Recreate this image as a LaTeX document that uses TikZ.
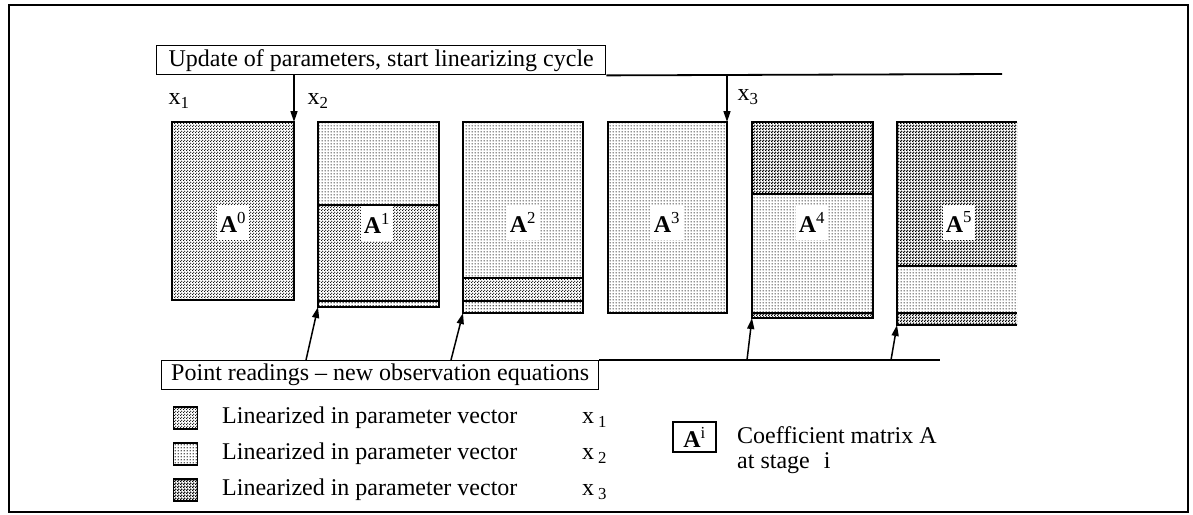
\documentclass[tikz,border=0pt]{standalone}
\usepackage{fontspec}
\setmainfont{Liberation Serif}
\usetikzlibrary{arrows.meta,patterns}
\pgfdeclarepatternformonly{hdA}{\pgfqpoint{0pt}{0pt}}{\pgfqpoint{3pt}{3pt}}{\pgfqpoint{3pt}{3pt}}{%
  \pgfpathcircle{\pgfqpoint{0.75pt}{0.75pt}}{0.82pt}%
  \pgfpathcircle{\pgfqpoint{2.25pt}{2.25pt}}{0.82pt}%
  \pgfusepath{fill}}
\pgfdeclarepatternformonly{hdB}{\pgfqpoint{0pt}{0pt}}{\pgfqpoint{3pt}{3pt}}{\pgfqpoint{3pt}{3pt}}{%
  \pgfpathcircle{\pgfqpoint{1.5pt}{1.5pt}}{0.88pt}%
  \pgfusepath{fill}}
\pgfdeclarepatternformonly{hdC}{\pgfqpoint{0pt}{0pt}}{\pgfqpoint{3pt}{3pt}}{\pgfqpoint{3pt}{3pt}}{%
  \pgfpathcircle{\pgfqpoint{0.75pt}{0.75pt}}{1.02pt}%
  \pgfpathcircle{\pgfqpoint{2.25pt}{2.25pt}}{1.02pt}%
  \pgfusepath{fill}}
\begin{document}
\begin{tikzpicture}[x=1pt,y=-1pt,
  txt/.style={font=\fontsize{24}{28}\selectfont, inner sep=0pt},
  lbox/.style={draw, line width=1.4pt, font=\fontsize{24}{28}\selectfont, inner xsep=3pt, inner ysep=1pt, anchor=north west, minimum height=29pt},
  edge/.style={line width=1.8pt},
  arr/.style={line width=1.5pt, -{Triangle[length=11pt,width=7pt]}},
  pA/.style={pattern=hdA, pattern color=black},
  pB/.style={pattern=hdB, pattern color=black!85},
  pC/.style={pattern=hdC, pattern color=black},
  lab/.style={fill=white, font=\fontsize{24}{28}\selectfont, minimum width=32pt, minimum height=35pt, inner sep=1pt},
  key/.style={draw, line width=1.5pt, minimum width=24pt, minimum height=22pt, inner sep=0pt},
]
\useasboundingbox (0,0) rectangle (1193,514);
\draw[line width=1.4pt] (9,5) rectangle (1188,512);

% matrices: fills
\fill[pA] (172,122) rectangle (294,300);
\fill[pB] (318,122) rectangle (439,205);
\fill[pA] (318,205) rectangle (439,301);
\fill[pB] (318,301) rectangle (439,307);
\fill[pB] (463,122) rectangle (583,278);
\fill[pA] (463,278) rectangle (583,301);
\fill[pB] (463,301) rectangle (583,313);
\fill[pB] (608,122) rectangle (727,313);
\fill[pC] (752,122) rectangle (873,194);
\fill[pB] (752,194) rectangle (873,313);
\fill[pC] (752,313) rectangle (873,318);
\fill[pC] (897,122) rectangle (1017,266);
\fill[pB] (897,266) rectangle (1017,313);
\fill[pC] (897,313) rectangle (1017,325);

% labels
\node[lab] (L0) at (233,222) {\textbf{A}\textsuperscript{0}};
\node[lab] (L1) at (377,223) {\textbf{A}\textsuperscript{1}};
\node[lab] (L2) at (523,222) {\textbf{A}\textsuperscript{2}};
\node[lab] (L3) at (667,222) {\textbf{A}\textsuperscript{3}};
\node[lab] (L4) at (812,222) {\textbf{A}\textsuperscript{4}};
\node[lab] (L5) at (959,222) {\textbf{A}\textsuperscript{5}};

% matrices: outlines
\draw[edge] (172,122) rectangle (294,300);
\draw[edge] (318,122) rectangle (439,307);
\draw[edge] (318,205) -- (439,205) (318,301) -- (439,301);
\draw[edge] (463,122) rectangle (583,313);
\draw[edge] (463,278) -- (583,278) (463,301) -- (583,301);
\draw[edge] (608,122) rectangle (727,313);
\draw[edge] (752,122) rectangle (873,318);
\draw[edge] (752,194) -- (873,194) (752,313) -- (873,313);
\draw[edge] (1017,122) -- (897,122) -- (897,325) -- (1017,325);
\draw[edge] (897,266) -- (1017,266) (897,313) -- (1017,313);

\coordinate (a0ne) at (294,122);
\coordinate (a3ne) at (727,122);
\coordinate (a1sw) at (318,307);
\coordinate (a2sw) at (463,313);
\coordinate (a4sw) at (752,318);
\coordinate (a5sw) at (897,325);

% top bar
\node[lbox, minimum width=449pt] (topbox) at (156,45) {Update of parameters, start linearizing cycle};
\coordinate (topend) at (1002,74);
\draw[edge] (topbox.south east) -- (topend);
\draw[arr] (topbox.south -| a0ne) -- (a0ne);
\draw[arr] (topbox.south -| a3ne) -- (a3ne);
\node[txt] (x1t) at (179,101) {x\textsubscript{1}};
\node[txt] (x2t) at (318,101) {x\textsubscript{2}};
\node[txt] (x3t) at (748,97) {x\textsubscript{3}};

% bottom bar
\node[lbox, minimum width=437pt] (botbox) at (161,360) {Point readings – new observation equations};
\coordinate (botend) at (940,360);
\draw[edge] (botbox.north east) -- (botend);
\coordinate (b1) at (306,360);
\coordinate (b2) at (451,360);
\coordinate (b3) at (747,360);
\coordinate (b4) at (891,360);
\draw[arr] (b1) -- (a1sw);
\draw[arr] (b2) -- (a2sw);
\draw[arr] (b3) -- (a4sw);
\draw[arr] (b4) -- (a5sw);

% legend
\node[key, pA] (k1) at (185.5,418) {};
\node[key, pB] (k2) at (185.5,454) {};
\node[key, pC] (k3) at (185.5,490) {};
\node[txt, anchor=west] (t1) at (222,418) {Linearized in parameter vector};
\node[txt, anchor=west] (t2) at (222,454) {Linearized in parameter vector};
\node[txt, anchor=west] (t3) at (222,490) {Linearized in parameter vector};
\node[txt, anchor=west] (v1) at (582,420) {x\,\textsubscript{1}};
\node[txt, anchor=west] (v2) at (582,456) {x\,\textsubscript{2}};
\node[txt, anchor=west] (v3) at (582,492) {x\,\textsubscript{3}};
\node[draw, line width=1.4pt, minimum width=43pt, minimum height=30pt, inner sep=0pt, font=\fontsize{24}{28}\selectfont] (keyA) at (694.5,437) {\textbf{A}\textsuperscript{i}};
\node[txt, anchor=west] (c1) at (737,435) {Coefficient matrix A};
\node[txt, anchor=west] (c2) at (737,463) {at stage\hspace{14pt}i};
\end{tikzpicture}
\end{document}
